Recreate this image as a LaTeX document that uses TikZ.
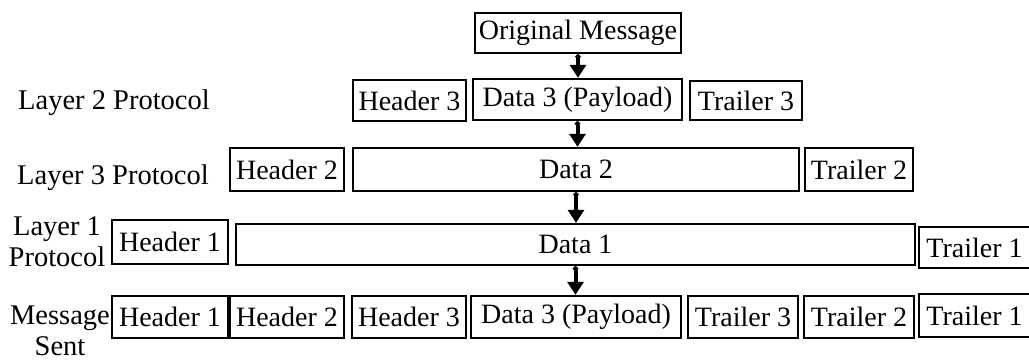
\documentclass[tikz,border=0pt]{standalone}
\usepackage{fontspec}
\setmainfont{Liberation Serif}
\usetikzlibrary{positioning, calc, arrows.meta}

\begin{document}
\begin{tikzpicture}[x=1pt, y=-1pt,
    box/.style={draw, line width=2.4pt, inner sep=0pt, minimum height=42pt,
        font=\fontsize{28}{31}\selectfont},
    lbl/.style={align=center, inner sep=0pt, font=\fontsize{28.5}{31}\selectfont},
    arr/.style={line width=4pt, {Circle[length=5pt, width=5pt]}-{Triangle[width=16pt, length=13pt]}}]

    % Rahmen des Bildes
    \useasboundingbox (0,0) rectangle (1029,360);

    % 1. Originalnachricht
    \node[box, minimum width=206pt, minimum height=40pt] (orig) at (578,33) {Original Message};

    % 2. Schicht 2
    \node[box, minimum width=113pt, minimum height=41pt] (hdrA3) at (409.5,100.5) {Header 3};
    \node[box, minimum width=209pt, minimum height=41pt] (datA3) at (577.5,99.5) {Data 3 (Payload)};
    \node[box, minimum width=112pt, minimum height=39pt] (trlA3) at (746,100.5) {Trailer 3};

    % 3. Schicht 3
    \node[box, minimum width=114pt, minimum height=43pt] (hdrB2) at (287,169.5) {Header 2};
    \node[box, minimum width=446pt, minimum height=43pt] (datB2) at (576,169.5) {Data 2};
    \node[box, minimum width=108pt, minimum height=43pt] (trlB2) at (859,169.5) {Trailer 2};

    % 4. Schicht 1
    \node[box, minimum width=116pt, minimum height=44pt] (hdrC1) at (170,242) {Header 1};
    \node[box, minimum width=679pt, minimum height=41pt] (datC1) at (575.5,244.5) {Data 1};
    \node[box, minimum width=111pt, minimum height=41pt] (trlC1) at (974.5,247.5) {Trailer 1};

    % 5. Gesendete Nachricht
    \foreach \nm/\x/\w/\txt in {hdrD1/170/116/Header 1, hdrD2/287/114/Header 2,
        hdrD3/409/114/Header 3, datD3/576/210/Data 3 (Payload),
        trlD3/743/110/Trailer 3, trlD2/859/110/Trailer 2} {
        \node[box, minimum width=\w pt] (\nm) at (\x,317) {\txt};
    }
    \node[box, minimum width=111pt, minimum height=43pt] (trlD1) at (974.5,315.5) {Trailer 1};

    % 6. Beschriftungen links
    \node[lbl] (lay2) at (114,103) {Layer 2 Protocol};
    \node[lbl] (lay3) at (113,178) {Layer 3 Protocol};
    \node[lbl] (lay1) at (57,242) {Layer 1\\Protocol};
    \node[lbl] (sent) at (60,331) {Message\\Sent};

    % 7. Pfeile
    \draw[arr] (orig.south) -- (orig.south |- datA3.north);
    \draw[arr] (datA3.south) -- (datA3.south |- datB2.north);
    \draw[arr] (datB2.south) -- (datB2.south |- datC1.north);
    \draw[arr] (datC1.south) -- (datC1.south |- datD3.north);

\end{tikzpicture}
\end{document}
